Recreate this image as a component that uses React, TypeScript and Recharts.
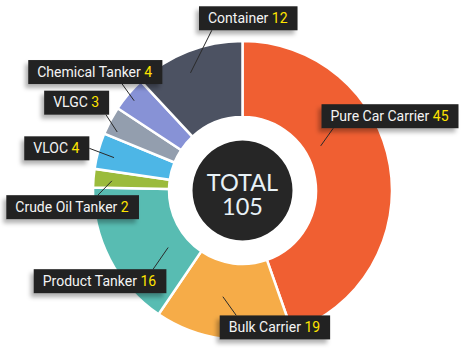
import { PieChart, Pie, Cell } from "recharts";

const categories = ["Pure Car Carrier", "Bulk Carrier", "Product Tanker", "Crude Oil Tanker", "VLOC", "VLGC", "Chemical Tanker", "Container"];
const counts = [45, 19, 16, 2, 4, 3, 4, 12];
// slice sizes as they are drawn in the picture (not exactly proportional to the counts)
const arcShares = [46.8, 15.6, 16.6, 2.1, 4.1, 3.2, 4.0, 12.5];
const colors = ["#F05F32", "#F6AC48", "#58BCB2", "#9BBB3C", "#4DB6E6", "#939EAE", "#8792D6", "#4C5262"];

// leader line start: angle shift (deg, clockwise) from slice middle + radius; leader vector; where it meets the box
const LABEL_POS = [
  { off: -20, r: 90, dx: 12.6, dy: -17.7, fx: 0.086, fy: 1 },
  { off: 3.1, r: 108, dx: 13.4, dy: 18.7, fx: 0.15, fy: 0 },
  { off: -10.1, r: 93.7, dx: -15, dy: 21.7, fx: 0.9, fy: 0 },
  { off: -0.5, r: 131, dx: -14, dy: 14.3, fx: 0.69, fy: 0 },
  { off: -1, r: 132.6, dx: -24.7, dy: -9.3, fx: 1, fy: 0.5 },
  { off: -2.85, r: 138.3, dx: -11.3, dy: -17.3, fx: 0.95, fy: 1 },
  { off: -0.6, r: 140.7, dx: -12, dy: -16.7, fx: 0.7, fy: 1 },
  { off: -2.4, r: 128.6, dx: 21.3, dy: -42.6, fx: 0.13, fy: 1 },
];

const pieData = categories.map((name, i) => ({ name, share: arcShares[i], count: counts[i] }));
const total = counts.reduce((a, b) => a + b, 0);

const RAD = Math.PI / 180;
const LABEL_FONT = "14px Roboto";
const ctx = document.createElement("canvas").getContext("2d");
function textWidth(s: string) {
  if (!ctx) return s.length * 7;
  ctx.font = LABEL_FONT;
  return ctx.measureText(s).width;
}

function ShipLabel(props: any) {
  const { cx, cy, midAngle, index } = props;
  const lp = LABEL_POS[index];
  const a = (midAngle - lp.off) * RAD;
  const px = cx + lp.r * Math.cos(a);
  const py = cy - lp.r * Math.sin(a);
  const qx = px + lp.dx, qy = py + lp.dy;
  const name = categories[index];
  const n = counts[index];
  const w = textWidth(`${name} ${n}`) + 19;
  const h = 24;
  const bx = qx - lp.fx * w, by = qy - lp.fy * h;
  return (
    <g>
      <line x1={px} y1={py} x2={qx} y2={qy} stroke="#2a2a2a" strokeWidth={1} />
      <rect x={bx} y={by} width={w} height={h} fill="#232323" filter="url(#lblShadow)" />
      <text x={bx + 9} y={by + 16.5} fontFamily="Roboto" fontSize={14} fill="#f4f4f4">
        {name}{" "}<tspan fill="#FFE400">{n}</tspan>
      </text>
    </g>
  );
}

function CenterLabel(props: any) {
  const { cx, cy } = props;
  return (
    <text x={cx} y={cy + 0.5} fontFamily="Lato" fontSize={23.5} fill="#E8F1F6" textAnchor="middle">
      <tspan x={cx}>TOTAL</tspan>
      <tspan x={cx} dy={23.5}>{total}</tspan>
    </text>
  );
}

export default function App() {
  return (
    <div style={{ position: "absolute", left: 0, top: 0, width: 461, height: 354, background: "#fff" }}>
      <svg width={0} height={0} style={{ position: "absolute" }}>
        <defs>
          <filter id="lblShadow" x="-20%" y="-40%" width="140%" height="200%">
            <feDropShadow dx={-3} dy={4} stdDeviation={2} floodColor="#000" floodOpacity={0.3} />
          </filter>
        </defs>
      </svg>
      <PieChart width={461} height={354} margin={{ top: 0, right: 0, bottom: 0, left: 0 }}>
        <Pie
          data={pieData}
          dataKey="share"
          nameKey="name"
          cx={242.5}
          cy={190.5}
          innerRadius={73.5}
          outerRadius={149.5}
          startAngle={90}
          endAngle={-270}
          stroke="#fff"
          strokeWidth={2.5}
          label={ShipLabel}
          labelLine={false}
          isAnimationActive={false}
        >
          {pieData.map((d, i) => <Cell key={d.name} fill={colors[i]} />)}
        </Pie>
        <Pie
          data={[{ name: "TOTAL", value: total }]}
          dataKey="value"
          cx={242.5}
          cy={190.5}
          innerRadius={0}
          outerRadius={50}
          fill="#262626"
          stroke="none"
          label={CenterLabel}
          labelLine={false}
          isAnimationActive={false}
        />
      </PieChart>
    </div>
  );
}
